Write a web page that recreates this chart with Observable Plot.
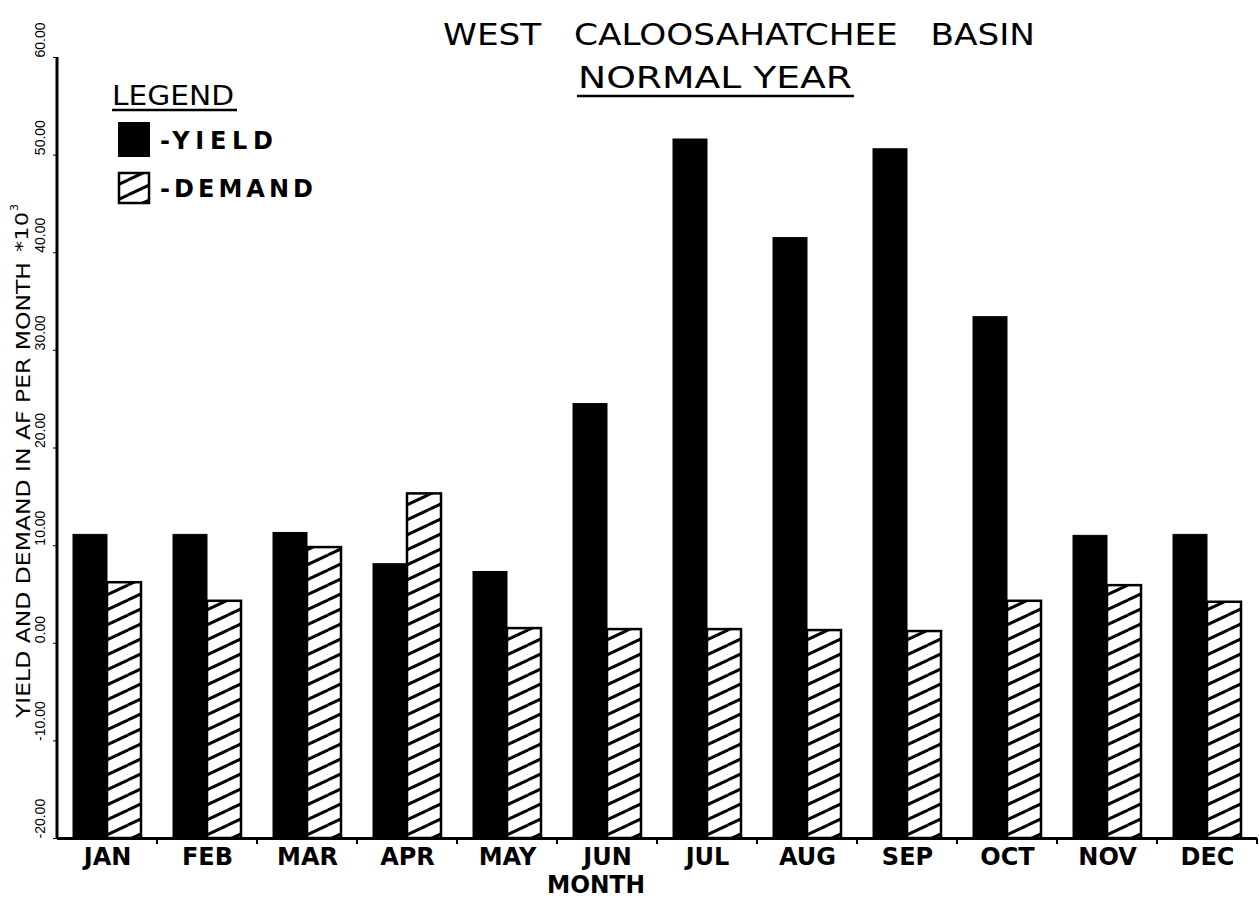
<!DOCTYPE html>
<html><head><meta charset="utf-8">
<script src="https://cdn.jsdelivr.net/npm/d3@7"></script>
<script src="https://cdn.jsdelivr.net/npm/@observablehq/plot@0.6"></script>
<style>
body{margin:0;background:#fff;}
#chart{width:1259px;height:902px;}
</style></head><body><div id="chart"></div>
<script>
const months = ["JAN","FEB","MAR","APR","MAY","JUN","JUL","AUG","SEP","OCT","NOV","DEC"];
const yieldValues = [11.1, 11.1, 11.3, 8.1, 7.3, 24.5, 51.6, 41.5, 50.6, 33.4, 11.0, 11.1];
const demandValues = [6.2, 4.3, 9.8, 15.3, 1.5, 1.4, 1.4, 1.3, 1.2, 4.3, 5.9, 4.2];
const seriesNames = ["YIELD", "DEMAND"];
const yTicks = [-20, -10, 0, 10, 20, 30, 40, 50, 60];

const yieldData = months.map((m, i) => ({month: m, series: seriesNames[0], value: yieldValues[i]}));
const demandData = months.map((m, i) => ({month: m, series: seriesNames[1], value: demandValues[i]}));
const yMin = yTicks[0], yMax = yTicks[yTicks.length - 1];

const plot = Plot.plot({
  width: 1259, height: 902,
  marginLeft: 57, marginRight: 2, marginTop: 57, marginBottom: 64,
  style: {background: "white", color: "black", fontFamily: "Liberation Sans, Arial, sans-serif"},
  fx: {domain: months, padding: 0, label: null},
  x: {domain: seriesNames, paddingInner: 0, paddingOuter: 0.47, axis: null},
  y: {domain: [yMin, yMax], label: null},
  marks: [
    Plot.barY(yieldData, {fx: "month", x: "series", y1: yMin, y2: "value", fill: "black", stroke: "black", strokeWidth: 1}),
    Plot.barY(demandData, {fx: "month", x: "series", y1: yMin, y2: "value", fill: "url(#hatch)", stroke: "black", strokeWidth: 2.5}),
    Plot.ruleY([yMin], {stroke: "black", strokeWidth: 3}),
    Plot.axisY(yTicks, {tickFormat: d => d.toFixed(2), tickRotate: -90, textAnchor: "start", tickSize: 4, tickPadding: 9, fontSize: 14, label: null}),
    Plot.axisFx({anchor: "bottom", tickSize: 0, tickPadding: 9, fontSize: 24, fontWeight: "bold", fontFamily: "DejaVu Sans", label: null})
  ]
});
document.getElementById("chart").appendChild(plot);

const svg = d3.select(plot);
const ys = plot.scale("y");
const fxs = plot.scale("fx");
const yPos = v => ys.apply ? ys.apply(v) : d3.scaleLinear(ys.domain, ys.range)(v);
const band = d3.scaleBand(fxs.domain, fxs.range).padding(0);

// hatch pattern
const defs = svg.insert("defs", ":first-child");
const pat = defs.append("pattern").attr("id", "hatch").attr("patternUnits", "userSpaceOnUse")
  .attr("width", 32).attr("height", 15);
pat.append("rect").attr("width", 32).attr("height", 15).attr("fill", "white");
[[0, 15, 32, 0], [-32, 15, 0, 0], [0, 30, 32, 15], [32, 15, 64, 0], [0, 0, 32, -15]].forEach(([x1, y1, x2, y2]) =>
  pat.append("line").attr("x1", x1).attr("y1", y1).attr("x2", x2).attr("y2", y2)
    .attr("stroke", "black").attr("stroke-width", 3));

// y axis line
const x0 = fxs.range[0];
svg.append("line").attr("x1", x0).attr("x2", x0).attr("y1", yPos(yMax)).attr("y2", yPos(yMin))
  .attr("stroke", "black").attr("stroke-width", 3);
// bottom boundary ticks
months.forEach(m => {
  const x = band(m) + band.step();
  svg.append("line").attr("x1", x).attr("x2", x).attr("y1", yPos(yMin)).attr("y2", yPos(yMin) + 6)
    .attr("stroke", "black").attr("stroke-width", 2);
});

// text helper
const T = (x, y, txt, size, opts = {}) => {
  const t = svg.append("text").attr("x", x).attr("y", y).text(txt)
    .attr("font-size", size).attr("fill", "black").attr("text-anchor", opts.anchor || "start")
    .attr("font-family", opts.family || "DejaVu Sans")
    .attr("font-weight", opts.weight || "normal").attr("xml:space", "preserve").style("white-space", "pre");
  if (opts.len) t.attr("textLength", opts.len).attr("lengthAdjust", opts.adjust || "spacingAndGlyphs");
  if (opts.rotate) t.attr("transform", `rotate(${opts.rotate},${x},${y})`);
  return t;
};
T(443, 45, "WEST   CALOOSAHATCHEE   BASIN", 30, {len: 592});
T(578, 88, "NORMAL YEAR", 30, {len: 274});
svg.append("line").attr("x1", 577).attr("x2", 854).attr("y1", 96).attr("y2", 96).attr("stroke", "black").attr("stroke-width", 2.5);

// legend
T(112, 105, "LEGEND", 27, {len: 122});
svg.append("line").attr("x1", 112).attr("x2", 237).attr("y1", 110).attr("y2", 110).attr("stroke", "black").attr("stroke-width", 2.5);
svg.append("rect").attr("x", 118).attr("y", 122).attr("width", 32).attr("height", 35).attr("fill", "black");
T(160, 149, "-YIELD", 24, {len: 113, weight: "bold", adjust: "spacing"});
svg.append("rect").attr("x", 119).attr("y", 173).attr("width", 30).attr("height", 30).attr("fill", "url(#hatch)").attr("stroke", "black").attr("stroke-width", 2.5);
T(160, 197, "-DEMAND", 24, {len: 153, weight: "bold", adjust: "spacing"});

// y axis title
T(30, 718, "YIELD AND DEMAND IN AF PER MONTH", 19, {len: 456, rotate: -90});
T(28, 252, "*10", 17, {rotate: -90, len: 40});
T(18, 211, "3", 11, {rotate: -90});

// x axis title
T(596, 893, "MONTH", 25, {anchor: "middle", weight: "bold", len: 98});
</script></body></html>
